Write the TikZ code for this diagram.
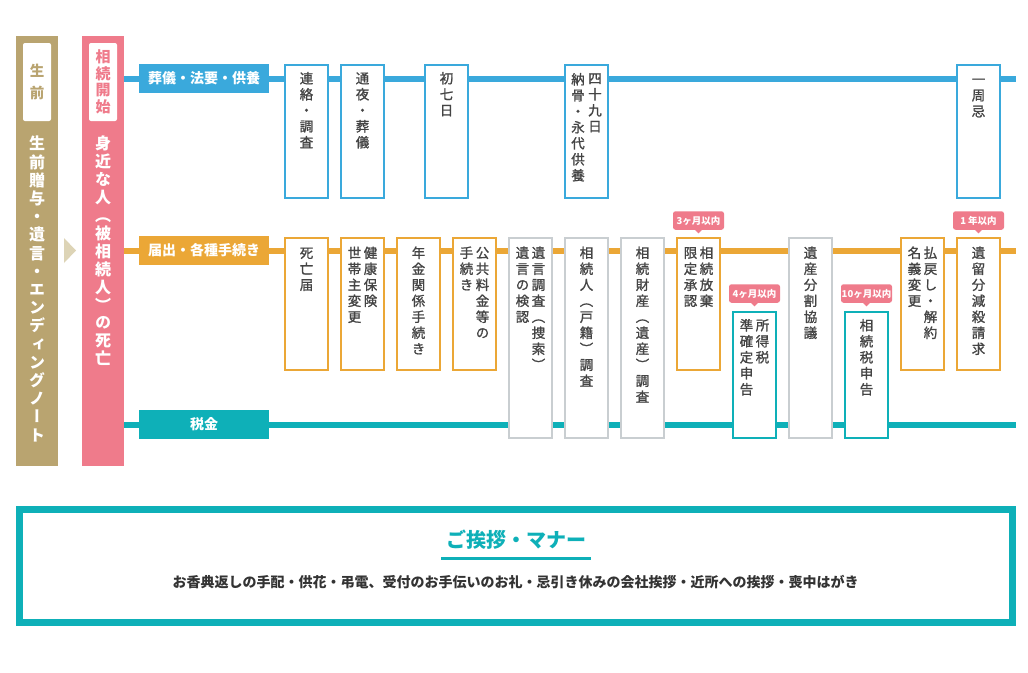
\documentclass[tikz,border=0pt]{standalone}
\usepackage{fontspec}
\setmainfont{Noto Sans CJK JP}
\newfontfamily\vfont[RawFeature=+vert]{Noto Sans CJK JP}
\newfontfamily\vfontm[RawFeature=+vert, FakeBold=1.2]{Noto Sans CJK JP}
\usetikzlibrary{calc,backgrounds}
\definecolor{ctan}{HTML}{B9A470}
\definecolor{carrow}{HTML}{DDD4B6}
\definecolor{cpink}{HTML}{EF7B8B}
\definecolor{cblue}{HTML}{3AA9DC}
\definecolor{corange}{HTML}{EBA736}
\definecolor{cteal}{HTML}{0EB0B8}
\definecolor{cgray}{HTML}{C9CED1}
\definecolor{ctxt}{HTML}{444444}
\definecolor{cbody}{HTML}{333333}
\newcommand\fstrut{\rule{0pt}{12.2pt}}
\begin{document}
\begin{tikzpicture}[x=1pt,y=-1pt,
  bar/.style={inner sep=0, minimum width=42pt, minimum height=430pt, anchor=north west},
  inbox/.style={fill=white, rounded corners=2pt, inner sep=0, minimum width=28pt, minimum height=78pt},
  cat/.style={inner sep=0, minimum width=130pt, minimum height=29pt, text=white, font=\bfseries\fontsize{14}{14}\selectfont},
  evbox/.style={draw, fill=white, line width=2pt, inner sep=0, minimum width=43pt, anchor=north},
  hb/.style={evbox, minimum height=133pt, draw=cblue},
  ho/.style={evbox, minimum height=132.5pt, draw=corange},
  hg/.style={evbox, minimum height=200.5pt, draw=cgray},
  ht/.style={evbox, minimum height=126pt, draw=cteal},
  vt/.style={inner sep=0, anchor=north, align=center, text=ctxt, font=\vfontm\fontsize{13.5}{16}\selectfont},
  tag/.style={fill=cpink, rounded corners=2.5pt, inner sep=0, minimum width=51pt, minimum height=18.5pt, text=white, font=\bfseries\fontsize{9.5}{9.5}\selectfont},
  tline/.style={line width=6pt}
]
\useasboundingbox (0,0) rectangle (1028,672);

% left bars
\node[bar, fill=ctan] (lbar) at (16,36) {};
\node[bar, fill=cpink] (pbar) at (82,36) {};
\node[inbox] (lbox) at (37,82) {};
\node[inbox] (pbox) at (103,82) {};
\node[inner sep=0, align=center, text=ctan, font=\bfseries\fontsize{14.5}{21.5}\selectfont] (ltitle) at (lbox) {生\\前};
\node[inner sep=0, align=center, text=cpink, font=\vfont\bfseries\fontsize{15}{16.5}\selectfont] (ptitle) at (pbox) {相\\続\\開\\始};
\node[vt, text=white, font=\vfont\bfseries\fontsize{16}{18.2}\selectfont] (ltext) at (37,136) {生\\前\\贈\\与\\・\\遺\\言\\・\\エ\\ン\\デ\\ィ\\ン\\グ\\ノ\\ー\\ト};
\node[vt, text=white, font=\vfont\bfseries\fontsize{16}{17.9}\selectfont] (ptext) at (103,136) {身\\近\\な\\人\\（\\被\\相\\続\\人\\）\\の\\死\\亡};
\fill[carrow] (64,238) -- (76,250.5) -- (64,263) -- cycle;

% category labels
\node[cat, fill=cblue] (c1) at (204,78.5) {葬儀・法要・供養};
\node[cat, fill=corange] (c2) at (204,250.5) {届出・各種手続き};
\node[cat, fill=cteal] (c3) at (204,424.5) {税金};
\coordinate (e1) at (1016,78.5);
\coordinate (e2) at (1016,250.5);
\coordinate (e3) at (1016,424.5);

% blue row
\node[hb] (b1) at (306.5,64) {};
\node[hb] (b2) at (362.5,64) {};
\node[hb] (b3) at (446.5,64) {};
\node[hb] (b4) at (586.5,64) {};
\node[hb] (b5) at (978.5,64) {};
\node[vt] (tb1) at ($(b1.north)+(0,7)$) {\fstrut 連\\絡\\・\\調\\査};
\node[vt] (tb2) at ($(b2.north)+(0,7)$) {\fstrut 通\\夜\\・\\葬\\儀};
\node[vt] (tb3) at ($(b3.north)+(0,7)$) {\fstrut 初\\七\\日};
\node[vt] (tb4r) at ($(b4.north)+(8.5,7)$) {\fstrut 四\\十\\九\\日};
\node[vt] (tb4l) at ($(b4.north)+(-8.5,8)$) {\fstrut 納\\骨\\・\\永\\代\\供\\養};
\node[vt] (tb5) at ($(b5.north)+(0,8)$) {\fstrut 一\\周\\忌};

% orange / gray / teal rows
\node[ho] (o1) at (306.5,236.5) {};
\node[ho] (o2) at (362.5,236.5) {};
\node[ho] (o3) at (418.5,236.5) {};
\node[ho] (o4) at (474.5,236.5) {};
\node[hg] (g1) at (530.5,236.5) {};
\node[hg] (g2) at (586.5,236.5) {};
\node[hg] (g3) at (642.5,236.5) {};
\node[ho] (o5) at (698.5,236.5) {};
\node[ht] (t1) at (754.5,311) {};
\node[hg] (g4) at (810.5,236.5) {};
\node[ht] (t2) at (866.5,311) {};
\node[ho] (o6) at (922.5,236.5) {};
\node[ho] (o7) at (978.5,236.5) {};

\node[vt] (to1) at ($(o1.north)+(0,9)$) {\fstrut 死\\亡\\届};
\node[vt] (to2r) at ($(o2.north)+(8,9)$) {\fstrut 健\\康\\保\\険};
\node[vt] (to2l) at ($(o2.north)+(-8,9)$) {\fstrut 世\\帯\\主\\変\\更};
\node[vt] (to3) at ($(o3.north)+(0,9)$) {\fstrut 年\\金\\関\\係\\手\\続\\き};
\node[vt] (to4r) at ($(o4.north)+(8,9)$) {\fstrut 公\\共\\料\\金\\等\\の};
\node[vt] (to4l) at ($(o4.north)+(-8,9)$) {\fstrut 手\\続\\き};
\node[vt] (tg1r) at ($(g1.north)+(8,9)$) {\fstrut 遺\\言\\調\\査\\（\\捜\\索\\）};
\node[vt] (tg1l) at ($(g1.north)+(-8,9)$) {\fstrut 遺\\言\\の\\検\\認};
\node[vt] (tg2) at ($(g2.north)+(0,9)$) {\fstrut 相\\続\\人\\（\\戸\\籍\\）\\調\\査};
\node[vt] (tg3) at ($(g3.north)+(0,9)$) {\fstrut 相\\続\\財\\産\\（\\遺\\産\\）\\調\\査};
\node[vt] (to5r) at ($(o5.north)+(8,9)$) {\fstrut 相\\続\\放\\棄};
\node[vt] (to5l) at ($(o5.north)+(-8,9)$) {\fstrut 限\\定\\承\\認};
\node[vt] (tt1r) at ($(t1.north)+(8,7)$) {\fstrut 所\\得\\税};
\node[vt] (tt1l) at ($(t1.north)+(-8,7)$) {\fstrut 準\\確\\定\\申\\告};
\node[vt] (tg4) at ($(g4.north)+(0,9)$) {\fstrut 遺\\産\\分\\割\\協\\議};
\node[vt] (tt2) at ($(t2.north)+(0,7)$) {\fstrut 相\\続\\税\\申\\告};
\node[vt] (to6r) at ($(o6.north)+(8,9)$) {\fstrut 払\\戻\\し\\・\\解\\約};
\node[vt] (to6l) at ($(o6.north)+(-8,9)$) {\fstrut 名\\義\\変\\更};
\node[vt] (to7) at ($(o7.north)+(0,9)$) {\fstrut 遺\\留\\分\\減\\殺\\請\\求};

% tags
\node[tag] (tg3m) at (698.5,220.5) {3ヶ月以内};
\node[tag] (tg4m) at (754.5,293.5) {4ヶ月以内};
\node[tag] (tg10m) at (866.5,293.5) {10ヶ月以内};
\node[tag] (tg1y) at (978.5,220.5) {1 年以内};
\foreach \t in {tg3m,tg4m,tg10m,tg1y}
  \fill[cpink] ($(\t.south)+(-4,-0.5)$) -- ($(\t.south)+(0,3.5)$) -- ($(\t.south)+(4,-0.5)$) -- cycle;

% manners box
\node[draw=cteal, line width=6.7pt, minimum width=993.3pt, minimum height=113.3pt, inner sep=0] (manner) at (516,566) {};
\node[text=cteal, font=\bfseries\fontsize{20}{20}\selectfont, inner sep=0] (mtitle) at (516,540) {ご挨拶・マナー};
\coordinate (ul1) at (441,558);
\coordinate (ul2) at (591,558);
\draw[cteal, line width=3pt] (ul1) -- (ul2);
\node[text=cbody, font=\bfseries\fontsize{14}{14}\selectfont, inner sep=0] (mbody) at (515.5,582) {お香典返しの手配・供花・弔電、受付のお手伝いのお礼・忌引き休みの会社挨拶・近所への挨拶・喪中はがき};

% timelines
\begin{scope}[on background layer]
\fill[white] (0,0) rectangle (1028,672);
\draw[tline, cblue] (pbar.east |- c1) -- (e1);
\draw[tline, corange] (pbar.east |- c2) -- (e2);
\draw[tline, cteal] (pbar.east |- c3) -- (e3);
\end{scope}
\end{tikzpicture}
\end{document}
